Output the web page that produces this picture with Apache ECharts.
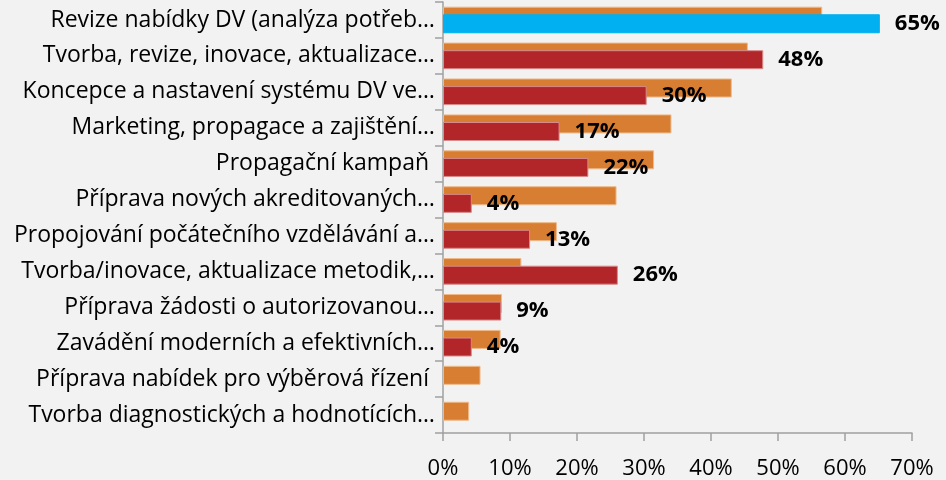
<!DOCTYPE html>
<html>
<head>
<meta charset="utf-8">
<script src="https://cdn.jsdelivr.net/npm/echarts@6/dist/echarts.min.js"></script>
<style>
    html, body { margin: 0; padding: 0; background: #f2f2f2; }
    #chart { width: 946px; height: 480px; }
</style>
</head>
<body>
<div id="chart"></div>
<script>
// categories, top to bottom
const categories = [
    'Revize nabídky DV (analýza potřeb…',
    'Tvorba, revize, inovace, aktualizace…',
    'Koncepce a nastavení systému DV ve…',
    'Marketing, propagace a zajištění…',
    'Propagační kampaň ',
    'Příprava nových akreditovaných…',
    'Propojování počátečního vzdělávání a…',
    'Tvorba/inovace, aktualizace metodik,…',
    'Příprava žádosti o autorizovanou…',
    'Zavádění moderních a efektivních…',
    'Příprava nabídek pro výběrová řízení ',
    'Tvorba diagnostických a hodnotících…'
];

// orange (back) series, percent
const orangeValues = [56.6, 45.5, 43.1, 34.1, 31.5, 25.9, 17.0, 11.7, 8.8, 8.6, 5.6, 3.9];
// red (front) series, percent; null = no bar
const redValues = [65.2, 47.8, 30.4, 17.4, 21.7, 4.3, 13.0, 26.1, 8.7, 4.3, null, null];

const xTicks = [0, 10, 20, 30, 40, 50, 60, 70];

const highlightIndex = 0;

const chart = echarts.init(document.getElementById('chart'));

const redData = redValues.map((v, i) => {
    if (v === null) return '-';
    if (i === highlightIndex) {
        return { value: v, itemStyle: { color: '#00b0f0', borderColor: '#00b0f0' } };
    }
    return v;
});

chart.setOption({
    backgroundColor: '#f2f2f2',
    animation: false,
    grid: { left: 443, right: 34, top: 2, bottom: 45, containLabel: false },
    xAxis: {
        type: 'value',
        min: xTicks[0],
        max: xTicks[xTicks.length - 1],
        interval: 10,
        splitLine: { show: false },
        axisLine: { show: true, lineStyle: { color: '#a0a0a0', width: 1.5 } },
        axisTick: { show: true, length: 8, lineStyle: { color: '#a0a0a0', width: 1.5 } },
        axisLabel: {
            formatter: '{value}%',
            color: '#000',
            fontFamily: 'Open Sans',
            fontSize: 22,
            margin: 25
        }
    },
    yAxis: {
        type: 'category',
        inverse: true,
        data: categories,
        axisLine: { show: true, lineStyle: { color: '#a0a0a0', width: 1.5 } },
        axisTick: { show: true, length: 8, lineStyle: { color: '#a0a0a0', width: 1.5 } },
        axisLabel: {
            color: '#000',
            fontFamily: 'Open Sans',
            fontSize: 23,
            margin: 8
        }
    },
    series: [
        {
            name: 'orange',
            type: 'bar',
            data: orangeValues,
            barWidth: 19,
            barGap: '-60%',
            itemStyle: { color: '#d77e32', borderColor: '#eeb98a', borderWidth: 1 }
        },
        {
            name: 'red',
            type: 'bar',
            data: redData,
            barWidth: 19,
            itemStyle: { color: '#b22528', borderColor: '#d98a8a', borderWidth: 1 },
            label: {
                show: true,
                position: 'right',
                distance: 15,
                color: '#000',
                fontFamily: 'Open Sans',
                fontWeight: 'bold',
                fontSize: 22,
                formatter: p => Math.round(p.value) + '%'
            }
        }
    ]
});
</script>
</body>
</html>
